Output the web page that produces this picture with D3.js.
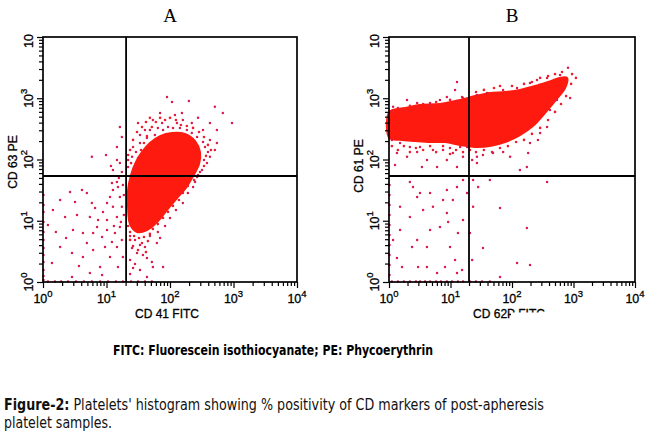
<!DOCTYPE html>
<html>
<head>
<meta charset="utf-8">
<script src="https://cdn.jsdelivr.net/npm/d3@7"></script>
<style>
  body { margin: 0; background: #fff; }
  svg { display: block; }
</style>
</head>
<body>
<svg id="fig"></svg>
<script>
// events are 10-bit FACS channel numbers: 256 channels per decade, 4 decades
var panelTitles = ["A", "B"];
var xLabels = ["CD 41 FITC", "CD 62P FITC"];
var yLabels = ["CD 63 PE", "CD 61 PE"];
var decadeTicks = [1, 10, 100, 1000, 10000];

// quadrant gates [x channel, y channel]
var gateA = [335, 443];
var gateB = [333, 443];

// outline of the solid (saturated) event cloud
var coreA = [[431,581],[472,610],[520,623],[572,619],[613,589],[633,543],[629,493],[605,443],
  [576,393],[540,351],[500,301],[460,251],[419,217],[379,209],[351,242],[343,309],[343,385],
  [355,447],[375,502],[399,543]];

var coreB = [[2,711],[67,727],[129,740],[212,744],[296,761],[358,777],[420,790],[483,794],
  [545,803],[608,819],[662,836],[712,853],[741,853],[733,811],[695,761],[649,706],[599,652],
  [545,614],[483,585],[420,568],[358,564],[296,573],[233,585],[171,585],[108,589],[46,594],[2,602]];

// single events outside the solid cloud
var eventsA = [
  [197,523],[254,531],[274,485],[310,648],[298,564],[318,606],[310,497],[318,460],
  [109,376],[129,334],[157,385],[177,372],[197,330],[210,309],[189,272],[222,259],[242,293],
  [258,330],[270,355],[282,385],[278,414],[298,418],[302,397],[310,355],[318,314],[298,272],
  [310,230],[290,205],[258,217],[238,188],[202,205],[161,205],[121,217],[117,121],[161,105],
  [202,134],[230,63],[270,105],[298,146],[318,176],[69,146],[36,79],[40,301],[20,238],[69,343],
  [137,280],[89,272],[177,163],[250,146],[278,167],[218,230],[258,259],[282,314],[117,21],
  [189,38],[238,29],[302,63],[322,105],[93,184],[52,209],[145,67],[326,280],[314,251],[286,234],
  [326,364],[322,405],[306,435],
  [2,364],[2,322],[2,293],[2,251],[2,209],[2,176],[2,142],[2,113],[2,84],[2,50],[2,25],[2,8],
  [20,2],[48,2],[73,2],[101,2],[133,2],[165,2],[197,2],[230,2],[262,2],[294,2],[322,2],[355,2],
  [383,2],[411,2],[439,2],
  [351,192],[371,176],[391,155],[359,142],[379,121],[403,113],[351,92],[371,75],[443,63],
  [391,50],[419,21],[351,33],[459,163],[431,192],[472,184],[439,84],[484,63],[419,100],[411,146],
  [463,209],[492,234],[512,268],[536,301],[564,330],[363,59],
  [500,773],[520,752],[588,757],[693,732],[725,706],[762,665],[673,665],[701,635],[383,665],
  [443,677],[472,706],[532,698],[560,706],[564,677],[600,665],[625,686],[645,635],[673,594],
  [701,581],[693,552],[673,523],[661,497],[641,468],[621,439],[605,397],[584,372],[411,635],
  [419,602],[391,581],[363,564],[359,523],[343,481],[298,510],[282,468],[480,665],[504,648],
  [540,665],[580,635],[621,606],[653,564],[431,635],[451,614],[484,635],[552,644],[600,623],
  [645,585],[665,543],[649,510],[633,460],[613,418],[391,614],[375,543],[343,510],[463,644],[524,644]
];

// events crowding the rim of the solid cloud
var rimA = [
  [351,552],[363,594],[379,627],[399,648],[415,669],[431,686],[343,531],[355,497],[367,477],
  [383,518],[395,552],[407,581],[419,610],[439,648],[455,669],[472,686],[492,677],[512,686],
  [536,677],[556,656],[580,652],[605,644],[629,627],[649,606],[665,573],[677,552],[657,527],
  [649,485],[625,447],[609,426],[584,401],[564,372],[548,343],[524,318],[504,293],[484,268],
  [463,242],[443,222],[431,201],[407,188],[387,184],[367,192],[351,209],[343,234],[351,176],
  [363,150],[383,134],[399,163],[423,171],[415,125]
];

var eventsB = [
  [283,836],[275,803],[75,761],[17,732],[117,748],[171,748],[212,761],[241,773],[304,773],
  [745,895],[712,865],[658,853],[616,844],[587,832],[533,811],[475,803],[408,790],[366,782],
  [754,769],[724,803],[699,761],[670,719],[658,648],[629,623],[587,581],[574,481],[545,468],
  [504,523],[475,543],[433,539],[391,531],[366,523],[366,497],[346,510],[579,539],[620,594],
  [33,539],[75,523],[117,543],[158,510],[200,481],[241,510],[266,539],[308,523],[283,481],
  [87,564],[129,564],[183,552],[225,552],[12,594],[46,581],[25,489],[137,481],[325,564],
  [296,564],[254,560],
  [87,418],[100,397],[117,355],[129,372],[171,372],[46,314],[87,272],[46,217],[96,146],[33,100],
  [54,63],[117,176],[158,146],[171,217],[212,230],[225,343],[241,288],[246,251],[254,146],
  [275,92],[233,63],[283,38],[304,50],[241,385],[266,343],[283,397],[308,426],[183,314],
  [142,301],[17,176],[158,63],[121,63],[200,38],[325,372],[308,259],[287,205],
  [2,405],[2,364],[2,322],[2,280],[2,238],[2,196],[2,155],[2,113],[2,71],[2,29],
  [12,2],[37,2],[62,2],[87,2],[112,2],[129,2],[150,2],[171,2],[196,2],[216,2],[241,2],[262,2],
  [287,2],[308,2],[337,2],[362,2],[387,2],[420,2],
  [350,426],[371,397],[420,426],[462,309],[391,142],[574,226],[533,79],[587,71],[462,21],
  [350,314],[337,205],[346,92],[658,418]
];

var rimB = [
  [12,711],[37,727],[62,719],[87,736],[112,727],[142,744],[171,736],[196,752],[225,744],
  [254,761],[279,752],[308,769],[362,794],[395,803],[437,811],[462,819],[512,819],[562,828],
  [595,836],[629,853],[662,861],[691,869],[720,878],[762,869],[778,853],[758,828],
  [12,568],[37,552],[62,568],[87,543],[112,560],[142,552],[171,568],[196,543],[225,568],
  [254,535],[279,552],[308,543],[337,552],[362,543],[395,552],[429,543],[462,560],[495,568],
  [529,585],[562,594],[595,619],[629,644],[662,677],[691,711],[716,744],[737,777]
];

var screen = { width: 650, height: 431 };
var fontSans = "'Liberation Sans', Arial, sans-serif";
var fontNarrow = "'Liberation Sans Narrow', 'DejaVu Sans Condensed', 'Liberation Sans', sans-serif";

var svg = d3.select("#fig")
  .attr("width", screen.width)
  .attr("height", screen.height);

// channel -> linear fluorescence value
var toValue = function(ch) { return Math.pow(10, ch / 256); };
var isDecade = function(v) {
  var l = Math.log10(v);
  return Math.abs(l - Math.round(l)) < 1e-9;
};

// axis texts look slightly heavy in the scan
var heavy = function(sel) {
  sel.attr("font-family", fontSans)
    .attr("fill", "#000")
    .attr("stroke", "#000")
    .attr("stroke-width", 0.3);
};

var drawPanel = function(p)
{
  var x = d3.scaleLog().domain([1, 1e4]).range([p.left, p.right]);
  var y = d3.scaleLog().domain([1, 1e4]).range([p.bottom, p.top]);
  var midX = (p.left + p.right) / 2;

  var g = svg.append("g").classed("panel", true);

  var outline = d3.line()
    .x(function(d) { return x(toValue(d[0])); })
    .y(function(d) { return y(toValue(d[1])); })
    .curve(d3.curveCatmullRomClosed.alpha(0.5));

  g.append("path")
    .datum(p.core)
    .attr("d", outline)
    .attr("fill", "#ff1a10")
    .attr("stroke", "#ff1a10")
    .attr("stroke-width", 2)
    .attr("stroke-linejoin", "round");

  g.selectAll("circle.rim")
    .data(p.rim)
    .enter()
    .append("circle")
    .classed("rim", true)
    .attr("cx", function(d) { return x(toValue(d[0])); })
    .attr("cy", function(d) { return y(toValue(d[1])); })
    .attr("r", 1.3)
    .attr("fill", "#f01e2c");

  g.selectAll("circle.event")
    .data(p.events)
    .enter()
    .append("circle")
    .classed("event", true)
    .attr("cx", function(d) { return x(toValue(d[0])); })
    .attr("cy", function(d) { return y(toValue(d[1])); })
    .attr("r", 1.25)
    .attr("fill", "#d91c4c");

  // quadrant gates
  g.append("line")
    .attr("x1", x(toValue(p.gate[0]))).attr("x2", x(toValue(p.gate[0])))
    .attr("y1", p.top).attr("y2", p.bottom)
    .attr("stroke", "#000").attr("stroke-width", 1.8);
  g.append("line")
    .attr("x1", p.left).attr("x2", p.right)
    .attr("y1", y(toValue(p.gate[1]))).attr("y2", y(toValue(p.gate[1])))
    .attr("stroke", "#000").attr("stroke-width", 1.8);

  g.append("rect")
    .attr("x", p.left).attr("y", p.top)
    .attr("width", p.right - p.left).attr("height", p.bottom - p.top)
    .attr("fill", "none").attr("stroke", "#000").attr("stroke-width", 1.7);

  // log axes, longer ticks on decades
  var gx = g.append("g")
    .attr("transform", "translate(0," + p.bottom + ")")
    .call(d3.axisBottom(x).tickFormat(function() { return ""; }).tickSizeOuter(0));
  gx.select(".domain").remove();
  gx.selectAll(".tick line")
    .attr("y2", function(d) { return isDecade(d) ? 6 : 4; })
    .attr("stroke-width", 1.2);

  var gy = g.append("g")
    .attr("transform", "translate(" + p.left + ",0)")
    .call(d3.axisLeft(y).tickFormat(function() { return ""; }).tickSizeOuter(0));
  gy.select(".domain").remove();
  gy.selectAll(".tick line")
    .attr("x2", function(d) { return isDecade(d) ? -6 : -4; })
    .attr("stroke-width", 1.2);

  // decade labels 10^n
  g.selectAll("text.xtick")
    .data(decadeTicks)
    .enter()
    .append("text")
    .classed("xtick", true)
    .attr("x", function(d) { return x(d); })
    .attr("y", p.bottom + 21)
    .attr("text-anchor", "middle")
    .attr("font-size", 12.5)
    .call(heavy)
    .each(function(d) {
      var t = d3.select(this);
      t.append("tspan").text("10");
      t.append("tspan").attr("dy", -6).attr("font-size", 9.5).text(Math.round(Math.log10(d)));
    });

  g.selectAll("text.ytick")
    .data(decadeTicks)
    .enter()
    .append("text")
    .classed("ytick", true)
    .attr("transform", function(d) {
      var ty = d === 1e4 ? p.top + 4 : y(d);
      return "translate(" + (p.left - 10) + "," + ty + ") rotate(-90)";
    })
    .attr("text-anchor", "middle")
    .attr("font-size", 12.5)
    .call(heavy)
    .each(function(d) {
      var t = d3.select(this);
      t.append("tspan").text("10");
      // top exponent is cut off in the original
      if (d !== 1e4) {
        t.append("tspan").attr("dy", -6).attr("font-size", 9.5).text(Math.round(Math.log10(d)));
      }
    });

  g.append("text")
    .text(p.title)
    .attr("x", midX)
    .attr("y", 22)
    .attr("text-anchor", "middle")
    .attr("font-family", "'Liberation Serif', 'Times New Roman', serif")
    .attr("font-size", 19);

  g.append("text")
    .text(p.xLabel)
    .attr("x", midX - 3)
    .attr("y", p.bottom + 36)
    .attr("text-anchor", "middle")
    .attr("font-size", 12)
    .call(heavy);

  g.append("text")
    .text(p.yLabel)
    .attr("transform", "translate(" + (p.left - 26) + "," + (p.yMid) + ") rotate(-90)")
    .attr("text-anchor", "middle")
    .attr("font-size", 12)
    .call(heavy);

  return g;
};

drawPanel({ left: 43, right: 297, top: 37, bottom: 282, yMid: 162,
  title: panelTitles[0], xLabel: xLabels[0], yLabel: yLabels[0],
  gate: gateA, core: coreA, events: eventsA, rim: rimA });

drawPanel({ left: 389, right: 635, top: 37, bottom: 282, yMid: 166,
  title: panelTitles[1], xLabel: xLabels[1], yLabel: yLabels[1],
  gate: gateB, core: coreB, events: eventsB, rim: rimB });

// the lower half of "P FITC" is hidden in the original figure
svg.append("rect")
  .attr("x", 511).attr("y", 312.5)
  .attr("width", 45).attr("height", 12)
  .attr("fill", "#fff");

svg.append("text")
  .text("FITC: Fluorescein isothiocyanate; PE: Phycoerythrin")
  .attr("x", 113)
  .attr("y", 355)
  .attr("font-family", fontNarrow)
  .attr("font-weight", "bold")
  .attr("font-size", 14.5)
  .attr("textLength", 320)
  .attr("lengthAdjust", "spacingAndGlyphs");

var caption = svg.append("text")
  .attr("x", 4)
  .attr("y", 410)
  .attr("font-family", fontNarrow)
  .attr("font-size", 15)
  .attr("fill", "#111")
  .attr("textLength", 540)
  .attr("lengthAdjust", "spacingAndGlyphs");
caption.append("tspan").attr("font-weight", "bold").text("Figure-2:");
caption.append("tspan").text(" Platelets' histogram showing % positivity of CD markers of post-apheresis");

svg.append("text")
  .text("platelet samples.")
  .attr("x", 4)
  .attr("y", 428)
  .attr("font-family", fontNarrow)
  .attr("font-size", 15)
  .attr("fill", "#111")
  .attr("textLength", 108)
  .attr("lengthAdjust", "spacingAndGlyphs");
</script>
</body>
</html>
